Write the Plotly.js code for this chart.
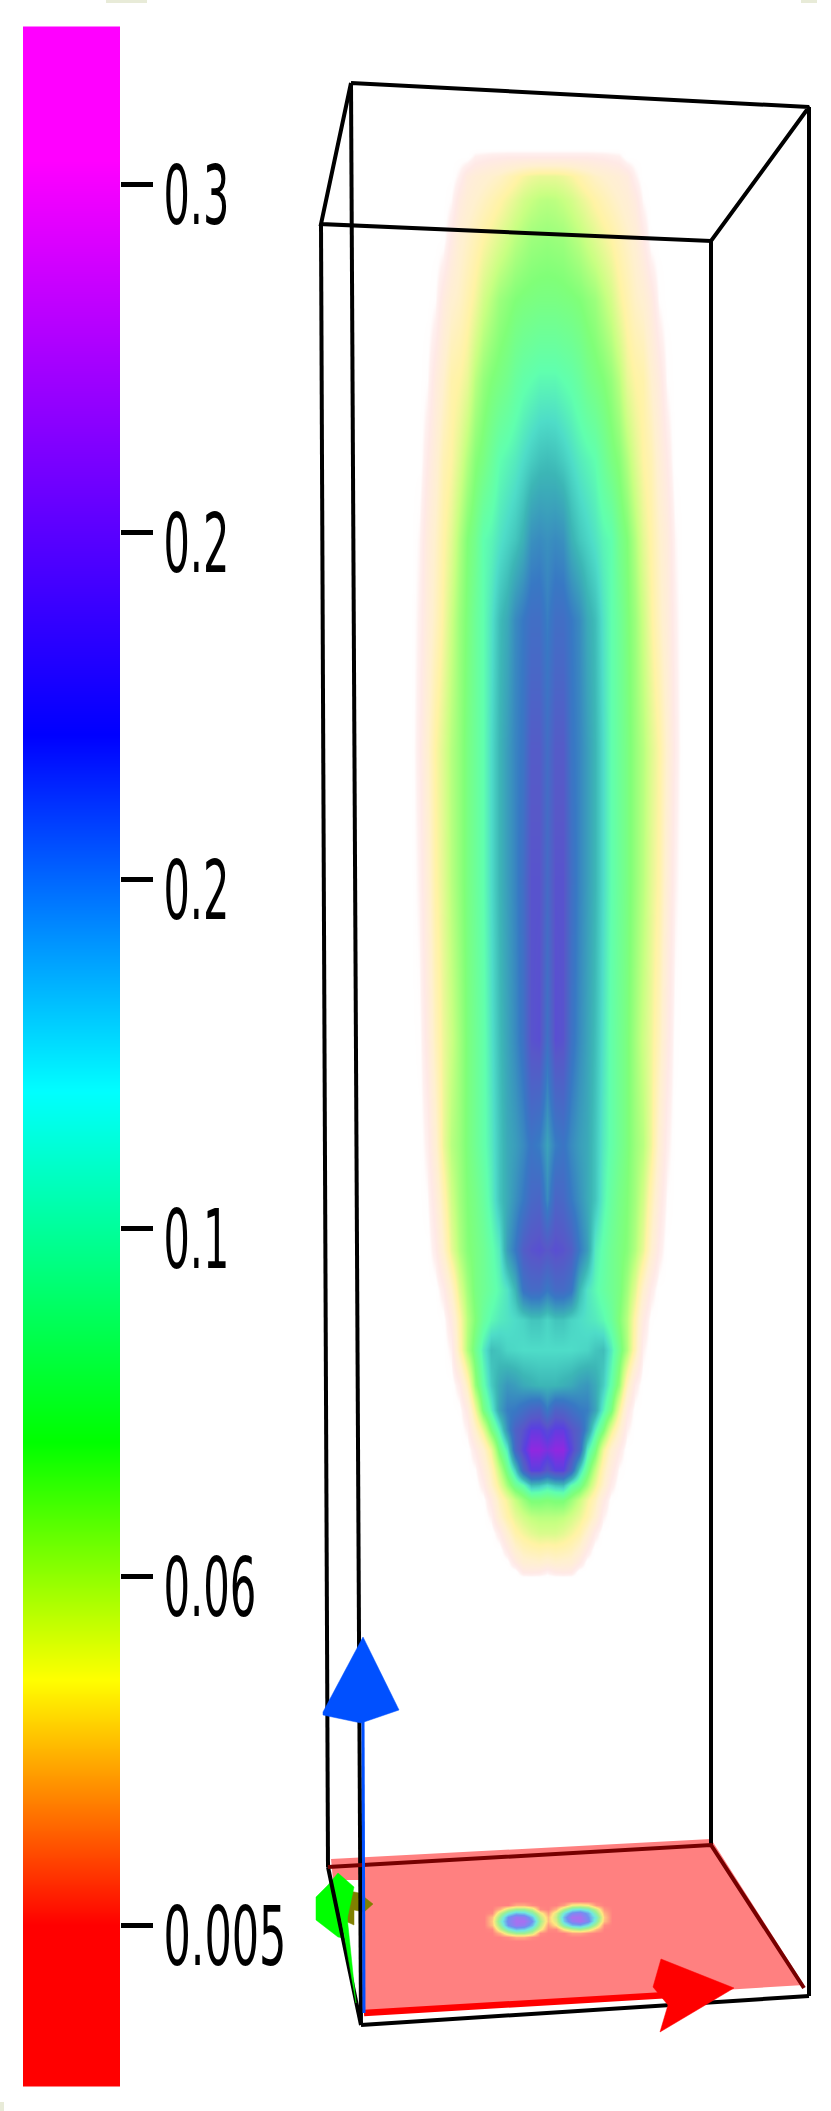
<!DOCTYPE html>
<html>
<head>
<meta charset="utf-8">
<script src="https://cdn.plot.ly/plotly-3.0.1.min.js"></script>
<style>html,body{margin:0;padding:0;background:#fff;overflow:hidden}#chart{width:831px;height:2111px}</style>
</head>
<body>
<div id="chart"></div>
<script>
// Colour legend
const legendTickY = [184.5, 532.5, 879.5, 1228, 1576, 1925];
const legendTickText = ['0.3', '0.2', '0.2', '0.1', '0.06', '0.005'];
const legendTickWidth = [66, 66, 66, 66, 93, 123];
const legendBarX = [23, 71, 120];
const legendBarY = [27, 28, 160, 734, 1091, 1441, 1679, 1925, 2085, 2086];
const legendBarLevel = [5, 5, 5, 4, 3, 2, 1, 0, 0, 0];
const legendScale = [[0, '#ff0000'], [0.2, '#ffff00'], [0.4, '#00ff00'], [0.6, '#00ffff'], [0.8, '#0000ff'], [1, '#ff00ff']];

// Volume: offsets from the plume axis, and levels read per row
const plumeAxisX = 547;
const plumeOffsets = [0, 8, 16, 24, 32, 40, 48, 56, 64, 72, 80, 88, 96, 104, 112, 120, 128, 136];
const plumeRowsY = [148, 156, 176, 200, 240, 300, 380, 460, 540, 620, 750, 880, 1040, 1145, 1200, 1250, 1290, 1320, 1350, 1385, 1410, 1430, 1450, 1470, 1485, 1500, 1517, 1533, 1550, 1562, 1572, 1578];
const plumeLevels = [
 [0,0,0,0,0,0,0,0,0,0,0,0,0,0,0,0,0,0],
 [.8,.8,.8,.8,.8,.8,.75,.7,.6,.5,0,0,0,0,0,0,0,0],
 [3.4,3.4,3.3,3.1,2.8,2.5,2.2,2,1.8,1.6,1.3,.5,0,0,0,0,0,0],
 [4.2,4.15,4,3.8,3.5,3.2,2.9,2.6,2.3,2,1.7,1.2,.3,0,0,0,0,0],
 [4.7,4.65,4.6,4.4,4.2,3.9,3.6,3.3,3,2.6,2.2,1.8,1,.1,0,0,0,0],
 [5.2,5.2,5.15,5.1,5,4.8,4.6,4.2,3.8,3.2,2.7,2.2,1.9,1.25,.25,0,0,0],
 [6.1,6.1,6,5.9,5.7,5.4,5.2,5,4.7,4.2,3.4,3,2.8,2,1.25,.25,0,0],
 [6.9,6.85,6.7,6.5,6.3,6.15,6,5.6,5.2,4.9,4.3,3.6,3,2.6,1.7,.88,0,0],
 [7.6,7.7,7.6,7.1,6.8,6.6,6.4,6.15,6,5.4,5,4.3,3.5,2.9,2.1,1.38,.38,0],
 [7.9,8.3,8.3,8,7.7,7.2,6.9,6.4,6,5.6,5.1,4.6,3.9,3.1,2.3,1.5,.56,0],
 [8.3,8.9,8.9,8.1,7.8,7.4,7,6.5,6,5.6,5.2,4.7,4.25,3.6,3,1.9,.75,0],
 [8.4,9.1,9.1,8.3,7.8,7.4,7,6.5,6,5.6,5.2,4.7,4.2,3.5,2.9,1.6,.5,0],
 [8.2,9.2,9.1,8.2,7.7,7.3,6.9,6.4,5.9,5.5,5.1,4.5,3.9,3.3,2.4,1.13,.13,0],
 [7.3,7.9,8.1,7.7,7.4,7.2,6.8,6.3,5.9,5.5,5.1,4.6,4.2,3.3,1.8,.6,0,0],
 [7.7,8.6,8.5,8,7.6,7.2,6.8,6.2,5.7,5.3,5,4.5,3.8,2.6,1.25,.25,0,0],
 [9,9.2,9.1,8.8,8,7.4,6.3,5.9,5.5,5.2,4.9,4.3,3.4,2,.75,0,0,0],
 [8,8.4,8.4,8.1,7,6.4,6.1,5.8,5.5,5.2,4.5,3.5,2,.75,0,0,0,0],
 [6.6,6.8,6.8,6.6,6.5,6.4,6.3,6.1,5.7,5,4.2,2.8,1.1,.1,0,0,0,0],
 [6.5,6.5,6.5,6.5,6.55,6.6,6.8,6.9,6.3,5.4,4.3,2.6,.5,0,0,0,0,0],
 [7,7,7.1,7.2,7.4,7.5,7.2,6.7,5.9,4.7,2.4,.75,0,0,0,0,0,0],
 [8,8.7,8.6,8.3,8,7.9,7.3,6.2,5.2,3.2,1.1,.1,0,0,0,0,0,0],
 [9.3,9.6,9.6,9.1,8.7,7.6,6.2,5.1,3.4,2,.5,0,0,0,0,0,0,0],
 [9.8,10,10,9.4,8.5,6.3,5.2,3.3,1.9,.9,0,0,0,0,0,0,0,0],
 [9,9.5,9.5,8.5,6.7,5.4,4,2.5,1.25,.25,0,0,0,0,0,0,0,0],
 [6.5,6.8,6.9,6,5.5,4.5,3.3,2.1,.75,0,0,0,0,0,0,0,0,0],
 [5,5.1,5.1,4.6,4,3.2,2.4,1.1,.1,0,0,0,0,0,0,0,0,0],
 [4.2,4.2,4.1,3.8,3.4,2.8,1.9,.5,0,0,0,0,0,0,0,0,0,0],
 [3.7,3.7,3.5,3.2,2.8,1.9,.75,0,0,0,0,0,0,0,0,0,0,0],
 [2.6,2.7,2.6,2.4,1.9,.9,0,0,0,0,0,0,0,0,0,0,0,0],
 [1.8,2,1.9,1.8,1.1,.1,0,0,0,0,0,0,0,0,0,0,0,0],
 [.5,.9,1,.9,0,0,0,0,0,0,0,0,0,0,0,0,0,0],
 [0,0,0,0,0,0,0,0,0,0,0,0,0,0,0,0,0,0]
];
const plumeScale = [[0,'#ffffff'],[0.025,'#fffdfd'],[0.05,'#fff0ef'],[0.09,'#ffe9e6'],[0.2,'#fff0cf'],[0.3,'#fff3a4'],[0.4,'#c8ff82'],[0.5,'#80ff78'],[0.6,'#60ffae'],[0.65,'#4edcc8'],[0.7,'#3cb6b6'],[0.8,'#3878c4'],[0.9,'#5858c8'],[0.95,'#5a40e0'],[1,'#9028e0']];

// Slice on the floor
const sliceX = [484,492,500,508,516,524,532,540,548,556,564,572,580,588,596,604,612];
const sliceY = [1901,1905,1909,1913,1917,1921,1925,1929,1933,1937,1941];
const sliceLevels = [
 [0,0,0,0,0,0,0,0,0,0,0,0,0,0,0,0,0],
 [0,0,0,0,.4,.4,.1,0,0,0,.3,1.1,1.2,1,.2,0,0],
 [0,0,.5,1.5,2,2,1.5,.1,0,.5,1.8,2.8,3,2.6,1.5,.2,0],
 [0,.1,1.6,2.8,3.5,3.3,2.5,1.2,.3,1.4,3,4.2,4.5,3.7,2.2,.5,0],
 [0,.6,2.2,4,4.8,4.6,3.5,1.7,.6,1.6,3.6,5,5,4,2.8,.7,0],
 [0,.7,2.6,4.2,5,5,4,2,.6,1.4,3.4,4.6,5,4.2,2.5,.6,0],
 [0,.6,2.2,4,4.8,4.6,3.5,1.7,.3,1,2.5,3.5,3.7,3,1.7,.1,0],
 [0,.1,1.6,2.8,3.5,3.3,2.5,1.2,.1,.1,1.1,1.7,2,1.5,.6,0,0],
 [0,0,.5,1.5,2,2,1.5,.1,0,0,0,.3,.3,.1,0,0,0],
 [0,0,0,.1,.4,.4,.1,0,0,0,0,0,0,0,0,0,0],
 [0,0,0,0,0,0,0,0,0,0,0,0,0,0,0,0,0]
];
const sliceScale = [[0,'#ff8080'],[0.2,'#ffe880'],[0.4,'#a0f090'],[0.6,'#70e8e0'],[0.8,'#7090f0'],[1,'#a870f0']];

// Floor of the box
const floorX = [331, 711, 804, 364, 362, 333];
const floorY = [1859, 1839, 1985, 2012, 1880, 1880];

// Box edges
const boxEdgesX = [351,809,711,321,351,null,361,809,null,361,328,null,351,361,null,809,809,null,321,328,null,711,711];
const boxEdgesY = [83,107,241,224,83,null,2025,1996,null,2025,1867,null,83,2025,null,107,1996,null,224,1867,null,241,1845];
const floorEdgesX = [328,711,804];
const floorEdgesY = [1867,1845,1988];

// Axis arrows
const xShaftX = [364,668], xShaftY = [2013,1995];
const xHeadX = [661,734,660,668,653], xHeadY = [1959,1988,2032,2005,1987];
const yShaftX = [364,363], yShaftY = [2013,1720];
const yHeadX = [363,399,361,323,323], yHeadY = [1637,1710,1723,1715,1712];
const zStemX = [336,356,344], zStemY = [1887,2003,1887];
const zHeadX = [338,354,343,338,316,316,328], zHeadY = [1873,1887,1938,1937,1920,1897,1885];
const zBackX = [345,359,373,364,354,354,343], zBackY = [1890,1893,1904,1912,1910,1925,1920];

// Small marks along the picture edges
const edgeMarks = [[106,147,0,3],[801,817,0,3],[0,4,2102,2111]];

const polygon = (x, y, color) => ({type:'scatter', mode:'lines', x:x.concat(x[0]), y:y.concat(y[0]), fill:'toself', fillcolor:color, line:{color:color, width:0.5}, hoverinfo:'skip', showlegend:false});
const strokes = (x, y, color, width) => ({type:'scatter', mode:'lines', x:x, y:y, connectgaps:false, line:{color:color, width:width, simplify:false}, hoverinfo:'skip', showlegend:false});

const mirroredX = plumeOffsets.slice(1).reverse().map(o => plumeAxisX - o).concat(plumeOffsets.map(o => plumeAxisX + o));
const mirroredZ = plumeLevels.map(r => r.slice(1).reverse().concat(r));

const traces = [
 {type:'heatmap', x:legendBarX, y:legendBarY, z:legendBarLevel.map(v => [v, v]), zmin:0, zmax:5, colorscale:legendScale, zsmooth:'best', showscale:false, hoverinfo:'skip'},
 {type:'heatmap', x:mirroredX, y:plumeRowsY, z:mirroredZ, zmin:0, zmax:10, colorscale:plumeScale, zsmooth:'best', showscale:false, hoverinfo:'skip'},
 {type:'heatmap', x:sliceX, y:sliceY, z:sliceLevels, zmin:0, zmax:5, colorscale:sliceScale, zsmooth:'best', showscale:false, hoverinfo:'skip'},
 polygon(zBackX, zBackY, '#808000'),
 polygon(zHeadX, zHeadY, '#00ff00'),
 strokes(boxEdgesX, boxEdgesY, '#000000', 4),
 polygon(zStemX, zStemY, '#00ff00'),
 strokes(floorEdgesX, floorEdgesY, '#760000', 4),
 strokes(xShaftX, xShaftY, '#ff0000', 6.5),
 polygon(xHeadX, xHeadY, '#ff0000'),
 strokes(yShaftX, yShaftY, '#0050ff', 3),
 polygon(yHeadX, yHeadY, '#0050ff')
];

const layout = {
 width:831, height:2111, margin:{l:0,r:0,t:0,b:0}, paper_bgcolor:'#ffffff', plot_bgcolor:'#ffffff', showlegend:false,
 xaxis:{range:[0,831], visible:false, fixedrange:true},
 yaxis:{range:[2111,0], anchor:'free', position:120/831, side:'right', showgrid:false, zeroline:false, showline:false, fixedrange:true,
  tickmode:'array', tickvals:legendTickY, ticktext:legendTickText, ticks:'outside', ticklen:32, tickwidth:5, tickcolor:'#000000',
  ticklabelstandoff:-6, ticklabelshift:-11, tickfont:{family:'"DejaVu Sans"', size:82, color:'#000000'}},
 shapes:[{type:'path', xref:'x', yref:'y', layer:'below', line:{width:0}, fillcolor:'#ff8080',
  path:'M' + floorX.map((x, i) => x + ',' + floorY[i]).join('L') + 'Z'}]
  .concat(edgeMarks.map(m => ({type:'rect', xref:'x', yref:'y', layer:'below', line:{width:0}, fillcolor:'#e8ebd8', x0:m[0], x1:m[1], y0:m[2], y1:m[3]})))
};

Plotly.newPlot('chart', traces, layout, {displayModeBar:false, staticPlot:true}).then(gd => {
 gd.querySelectorAll('.ytick text').forEach(t => {
  const i = legendTickText.indexOf(t.textContent);
  if (i >= 0) { t.setAttribute('textLength', legendTickWidth[i]); t.setAttribute('lengthAdjust', 'spacingAndGlyphs'); }
 });
});
</script>
</body>
</html>
